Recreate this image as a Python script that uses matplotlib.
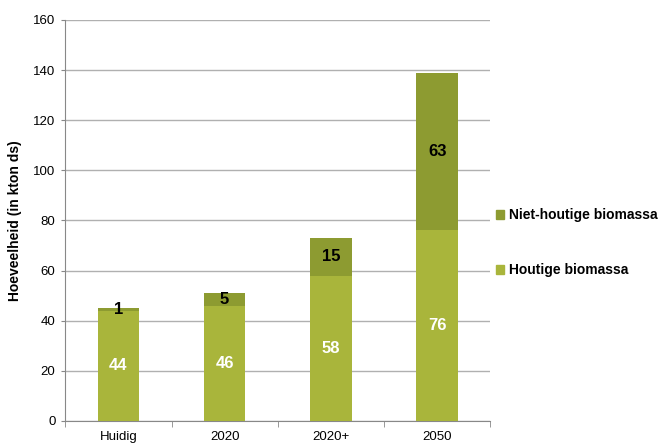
import matplotlib.pyplot as plt
from matplotlib.patches import Patch

plt.rcParams['font.family'] = ['Liberation Sans', 'DejaVu Sans']

categories = ["Huidig", "2020", "2020+", "2050"]
houtig = [44, 46, 58, 76]
niet_houtig = [1, 5, 15, 63]
yticks = [0, 20, 40, 60, 80, 100, 120, 140, 160]

c_houtig = "#A9B53B"
c_niet = "#8D9B31"

fig = plt.figure(figsize=(6.59, 4.43), dpi=100)
ax = fig.add_axes([0.099, 0.050, 0.645, 0.905])

x = range(len(categories))
ax.bar(x, houtig, width=0.39, color=c_houtig, zorder=3)
ax.bar(x, niet_houtig, width=0.39, bottom=houtig, color=c_niet, zorder=3)

for i in x:
    ax.text(i, houtig[i] / 2, str(houtig[i]), ha='center', va='center',
            color='white', fontsize=12, fontweight='bold', zorder=4)
    ax.text(i, houtig[i] + niet_houtig[i] / 2, str(niet_houtig[i]), ha='center',
            va='center', color='black', fontsize=12, fontweight='bold', zorder=4)

ax.set_xlim(-0.5, len(categories) - 0.5)
ax.set_ylim(0, 160)
ax.set_yticks(yticks)
ax.set_xticks(list(x))
ax.set_xticklabels(categories)
ax.set_xticks([i - 0.5 for i in range(len(categories) + 1)], minor=True)
ax.tick_params(axis='x', which='major', length=0, labelsize=9.5, pad=7)
ax.tick_params(axis='x', which='minor', length=4, color='#888888')
ax.tick_params(axis='y', length=3, color='#888888', labelsize=9.5, pad=4)
ax.yaxis.grid(True, color='#B0B0B0', linewidth=1, zorder=0)
for s in ['top', 'right']:
    ax.spines[s].set_visible(False)
for s in ['left', 'bottom']:
    ax.spines[s].set_color('#888888')
ax.set_ylabel("Hoeveelheid (in kton ds)", fontsize=10, fontweight='bold', labelpad=8)

handles = [Patch(color=c_niet), Patch(color=c_houtig)]
fig.legend(handles, ["Niet-houtige biomassa", "Houtige biomassa"],
           loc='upper left', bbox_to_anchor=(0.733, 0.558), frameon=False,
           prop={'size': 10, 'weight': 'bold'}, handlelength=0.6,
           handleheight=0.6, handletextpad=0.35, labelspacing=2.95)

fig.savefig("out.png", dpi=100)
